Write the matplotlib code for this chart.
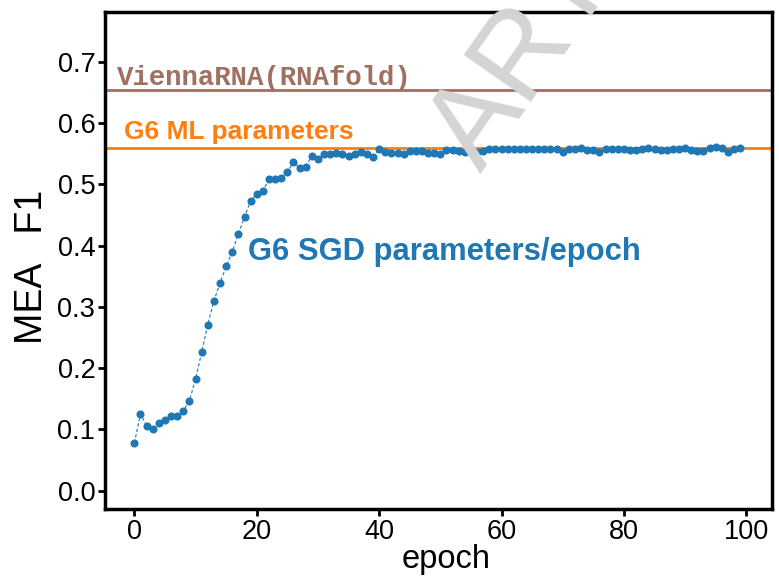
import matplotlib
matplotlib.use("Agg")
import matplotlib.pyplot as plt
import numpy as np

plt.rcParams['font.family'] = ['Liberation Sans', 'DejaVu Sans']

# MEA F1 per epoch
epoch = list(range(100))
f1_sgd = [0.078, 0.125, 0.106, 0.101, 0.110, 0.116, 0.122, 0.122, 0.130, 0.147,
          0.182, 0.226, 0.271, 0.310, 0.339, 0.366, 0.390, 0.419, 0.447, 0.473,
          0.484, 0.489, 0.508, 0.509, 0.511, 0.520, 0.536, 0.526, 0.529, 0.546,
          0.541, 0.549, 0.550, 0.551, 0.549, 0.546, 0.550, 0.553, 0.550, 0.545,
          0.557, 0.553, 0.551, 0.551, 0.549, 0.555, 0.555, 0.554, 0.551, 0.551,
          0.550, 0.556, 0.556, 0.555, 0.553, 0.552, 0.553, 0.555, 0.557, 0.557,
          0.557, 0.557, 0.557, 0.558, 0.557, 0.557, 0.557, 0.558, 0.558, 0.557,
          0.552, 0.557, 0.557, 0.560, 0.556, 0.556, 0.552, 0.557, 0.557, 0.558,
          0.558, 0.556, 0.556, 0.557, 0.560, 0.558, 0.556, 0.556, 0.558, 0.558,
          0.560, 0.556, 0.555, 0.555, 0.560, 0.561, 0.560, 0.553, 0.557, 0.560]
f1_ml = 0.560
f1_vienna = 0.654

xticks = [0, 20, 40, 60, 80, 100]
yticks = [0.0, 0.1, 0.2, 0.3, 0.4, 0.5, 0.6, 0.7]

fig = plt.figure(figsize=(7.79, 5.76), dpi=100)
ax = fig.add_axes([0.1348, 0.1163, 0.8562, 0.8627])

blue = '#1f77b4'
orange = '#ff7f0e'
brown = '#a07060'

# watermark, cut by the top edge like in the original
fig.text(0.585, 0.728, 'ARTI', fontsize=86, color='#d4d4d4',
         rotation=55, rotation_mode='anchor', ha='left', va='center', zorder=0)

ax.axhline(f1_vienna, color=brown, lw=2)
ax.axhline(f1_ml, color=orange, lw=2)
ax.plot(epoch, f1_sgd, color=blue, lw=0.8, ls=(0, (3, 2)),
        marker='o', ms=4.8, mec=blue, mfc=blue)

ax.text(-2.8, 0.662, 'ViennaRNA(RNAfold)', color=brown, fontsize=19.7,
        fontweight='bold', family='Liberation Mono', va='baseline')
ax.text(-1.7, 0.574, 'G6 ML parameters', color=orange, fontsize=19,
        fontweight='bold', va='baseline')
ax.text(18.6, 0.377, 'G6 SGD parameters/epoch', color=blue, fontsize=22.3,
        fontweight='bold', va='baseline')

ax.set_xlim(-4.8, 104.2)
ax.set_ylim(-0.03, 0.781)
ax.set_xticks(xticks)
ax.set_yticks(yticks)
ax.set_yticklabels(['%.1f' % v for v in yticks])
ax.tick_params(labelsize=19.5, width=2, length=5, pad=2)
for s in ax.spines.values():
    s.set_linewidth(2.5)
ax.patch.set_alpha(0)

ax.set_xlabel('epoch', fontsize=23.5)
ax.set_ylabel('MEA   F1', fontsize=27)
ax.xaxis.set_label_coords(0.511, -0.07)
ax.yaxis.set_label_coords(-0.083, 0.487)

fig.savefig('out.png', dpi=100)
